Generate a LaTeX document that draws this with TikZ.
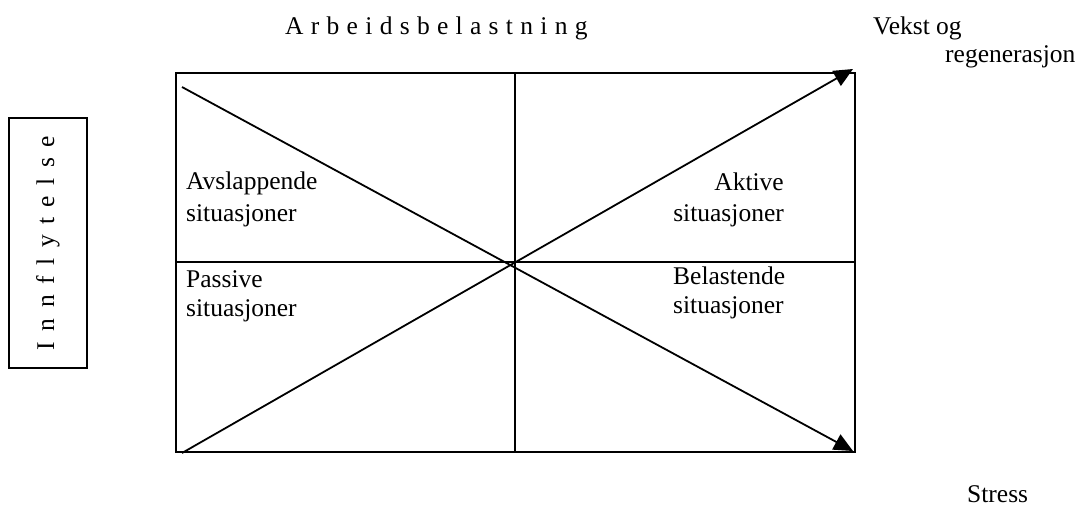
\documentclass[tikz,border=0pt]{standalone}
\usepackage{fontspec}
\setmainfont{Liberation Serif}
\usetikzlibrary{arrows.meta}
\begin{document}
\begin{tikzpicture}[x=1pt,y=-1pt,
  txt/.style={inner sep=0pt,font=\fontsize{25.5}{29}\selectfont},
  frame/.style={line width=1.8pt},
  arr/.style={line width=1.8pt,-{Triangle[length=19pt,width=17pt]}}]
\useasboundingbox (0,0) rectangle (1085,507);
% main box corners
\coordinate (tl) at (176,73);
\coordinate (br) at (855,452);
\coordinate (tm) at (515,73);
\coordinate (bm) at (515,452);
\coordinate (ml) at (176,262);
\coordinate (mr) at (855,262);
\draw[frame] (tl) rectangle (br);
\draw[frame] (tm) -- (bm);
\draw[frame] (ml) -- (mr);
% diagonals
\coordinate (d1s) at (182,87);
\coordinate (d1e) at (853,451);
\coordinate (d2s) at (182,453);
\coordinate (d2e) at (853,69);
\draw[arr] (d1s) -- (d1e);
\draw[arr] (d2s) -- (d2e);
% side label
\node[txt,draw,line width=1.3pt,rotate=90,minimum width=250pt,minimum height=78pt] (infl) at (48,243)
  {\spaceskip=10.5pt I n n f l y t e l s e};
% top labels
\node[txt,anchor=base west] (arb) at (285,34) {\spaceskip=7.3pt A r b e i d s b e l a s t n i n g};
\node[txt,anchor=base west] (vekst) at (873,34) {Vekst og};
\node[txt,anchor=base west] (regen) at (945,62) {regenerasjon};
\node[txt,anchor=base west] (stress) at (967,502) {Stress};
% quadrant labels
\node[txt,anchor=base west] (avs1) at (186,189) {Avslappende};
\node[txt,anchor=base west] (avs2) at (186,221) {situasjoner};
\node[txt,anchor=base east] (akt1) at (784,190) {Aktive};
\node[txt,anchor=base east] (akt2) at (784,221) {situasjoner};
\node[txt,anchor=base west] (pas1) at (186,287) {Passive};
\node[txt,anchor=base west] (pas2) at (186,316) {situasjoner};
\node[txt,anchor=base west] (bel1) at (673,284) {Belastende};
\node[txt,anchor=base west] (bel2) at (673,313) {situasjoner};
\end{tikzpicture}
\end{document}
